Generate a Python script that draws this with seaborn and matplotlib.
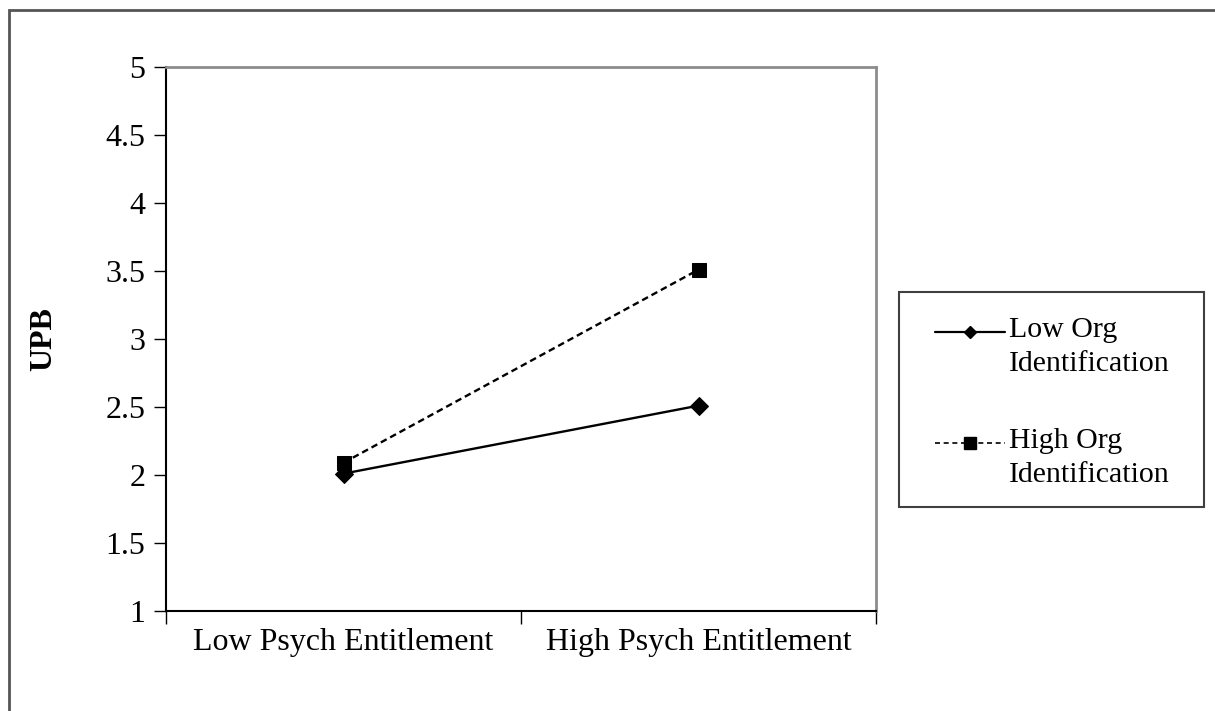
import matplotlib
matplotlib.use("Agg")
import matplotlib.pyplot as plt
import seaborn as sns
import pandas as pd
import numpy as np
from matplotlib.patches import Rectangle
from matplotlib.lines import Line2D
from matplotlib.offsetbox import DrawingArea

categories = ["Low Psych Entitlement", "High Psych Entitlement"]
series_names = ["Low Org\nIdentification", "High Org\nIdentification"]
low_org = [2.01, 2.51]
high_org = [2.09, 3.51]
y_ticks = [1, 1.5, 2, 2.5, 3, 3.5, 4, 4.5, 5]
y_tick_labels = ["1", "1.5", "2", "2.5", "3", "3.5", "4", "4.5", "5"]

sns.set_style("white")
plt.rcParams['font.family'] = ['Liberation Serif', 'DejaVu Serif']
plt.rcParams['text.color'] = 'black'
plt.rcParams['xtick.color'] = 'black'
plt.rcParams['ytick.color'] = 'black'
plt.rcParams['axes.labelcolor'] = 'black'

rows = []
for i, c in enumerate(categories):
    rows.append({"pos": i, "UPB": low_org[i], "series": series_names[0]})
    rows.append({"pos": i, "UPB": high_org[i], "series": series_names[1]})
df = pd.DataFrame(rows)

W, H = 1215, 711
fig = plt.figure(figsize=(W / 100, H / 100), dpi=100)
ax = fig.add_axes([166 / W, 1 - 611 / H, (876 - 166) / W, (611 - 67) / H])

sns.lineplot(data=df, x="pos", y="UPB", hue="series", style="series",
             palette=["black", "black"],
             markers={series_names[0]: "D", series_names[1]: "s"},
             dashes={series_names[0]: "", series_names[1]: (2.8, 1.7)},
             markersize=9, linewidth=1.7, ax=ax, legend=False)
for ln in ax.get_lines():
    if ln.get_marker() == "s":
        ln.set_markersize(10.5)
    ln.set_markeredgecolor("black")
    ln.set_markerfacecolor("black")

ax.set_xlim(-0.5, 1.5)
ax.set_ylim(1, 5)
ax.set_yticks(y_ticks)
ax.set_yticklabels(y_tick_labels)
ax.set_xticks([0, 1])
ax.set_xticklabels(categories)
ax.set_xticks([-0.5, 0.5, 1.5], minor=True)
ax.tick_params(axis="x", which="major", length=0, pad=12, labelsize=23, labelcolor="black")
ax.tick_params(axis="x", which="minor", length=9, width=1, color="black", direction="out", bottom=True)
ax.tick_params(axis="y", length=9, width=1, color="black", direction="out", left=True, labelsize=23,
               pad=6, labelcolor="black")
ax.set_xlabel("")
ax.set_ylabel("UPB", fontsize=23, fontweight="bold", color="black")
ax.yaxis.set_label_coords(-(166 - 58) / (876 - 166), 0.5)

for side in ["left", "bottom"]:
    ax.spines[side].set_color("black")
    ax.spines[side].set_linewidth(1.5)
for side in ["top", "right"]:
    ax.spines[side].set_visible(True)
    ax.spines[side].set_color("#8c8c8c")
    ax.spines[side].set_linewidth(2)

# outer frame
fig.patches.append(Rectangle((9 / W, -0.1), 1.2, 1 - 10 / H + 0.1, transform=fig.transFigure,
                             fill=False, edgecolor="#555555", linewidth=2))
# legend box
fig.patches.append(Rectangle((899 / W, 1 - 507 / H), (1204 - 899) / W, (507 - 292) / H,
                             transform=fig.transFigure, fill=False, edgecolor="#404040",
                             linewidth=1.5))

handles = [
    Line2D([], [], color="black", linewidth=1.6, marker="D", markersize=6),
    Line2D([], [], color="black", linewidth=1.2, linestyle=(0, (3, 2.2)), marker="s", markersize=9),
]
leg = fig.legend(handles, series_names, loc="upper left",
                 bbox_to_anchor=(935 / W, 1 - 317 / H), bbox_transform=fig.transFigure,
                 fontsize=21.5, frameon=False,
                 handlelength=2.35, handletextpad=0.12, labelspacing=1.7,
                 borderpad=0, borderaxespad=0)
for t in leg.get_texts():
    t.set_linespacing(1.4)
    t.set_color("black")

# raise legend handles to the first text line (as in the reference)
shift_pt = 10.5
for da in leg.findobj(DrawingArea):
    for child in da.get_children():
        if isinstance(child, Line2D):
            yd = np.asarray(child.get_ydata(), dtype=float)
            child.set_ydata(yd + shift_pt)

fig.savefig("out.png", dpi=100)
